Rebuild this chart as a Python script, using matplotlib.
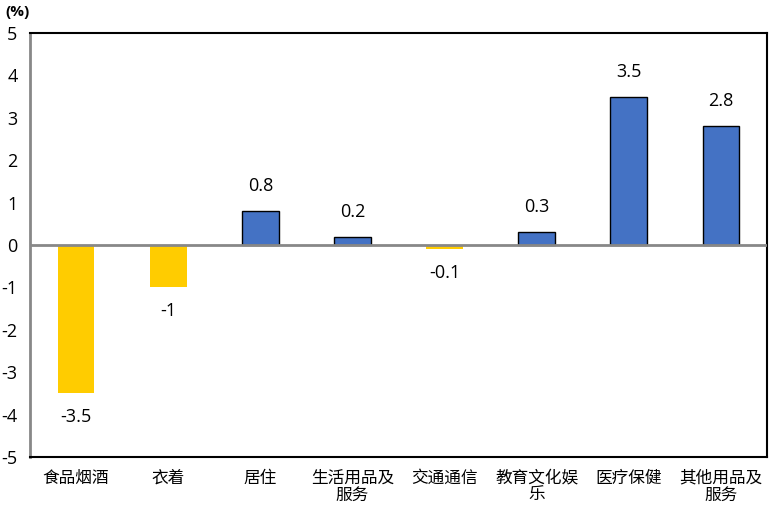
import matplotlib.pyplot as plt
import numpy as np

plt.rcParams['font.family'] = ['Noto Sans CJK SC', 'DejaVu Sans']

categories = ['食品烟酒', '衣着', '居住', '生活用品及\n服务', '交通通信', '教育文化娱\n乐', '医疗保健', '其他用品及\n服务']
values = [-3.5, -1, 0.8, 0.2, -0.1, 0.3, 3.5, 2.8]
value_labels = ['-3.5', '-1', '0.8', '0.2', '-0.1', '0.3', '3.5', '2.8']
yticks = [5, 4, 3, 2, 1, 0, -1, -2, -3, -4, -5]

fig = plt.figure(figsize=(7.71, 5.08), dpi=100)
ax = fig.add_axes([30 / 771, 1 - 457 / 508, 737 / 771, 424 / 508])

x = np.arange(len(categories))
for xi, v, lab in zip(x, values, value_labels):
    if v < 0:
        ax.bar(xi, v, width=0.4, color='#FFCC00', edgecolor='none', zorder=2)
        ax.annotate(lab, (xi, v), xytext=(0, -17), textcoords='offset points',
                    ha='center', va='center', fontsize=13, family='Open Sans')
    else:
        ax.bar(xi, v, width=0.4, color='#4472C4', edgecolor='black', linewidth=1, zorder=2)
        ax.annotate(lab, (xi, v), xytext=(0, 18), textcoords='offset points',
                    ha='center', va='center', fontsize=13, family='Open Sans')

ax.axhline(0, color='#888888', linewidth=2, zorder=3)
ax.set_xlim(-0.5, len(categories) - 0.5)
ax.set_ylim(-5, 5)
ax.set_yticks(yticks)
ax.set_yticklabels([str(t) for t in yticks], family='Open Sans', fontsize=13)
ax.set_xticks(x)
ax.set_xticklabels(categories, fontsize=12, linespacing=1.0, va='top')
ax.tick_params(axis='both', length=0)
ax.tick_params(axis='y', pad=9)
ax.tick_params(axis='x', pad=9)

for side in ['top', 'right', 'bottom']:
    ax.spines[side].set_color('black')
    ax.spines[side].set_linewidth(1.5)
ax.spines['left'].set_color('#888888')
ax.spines['left'].set_linewidth(2)

fig.text(5 / 771, 1 - 12 / 508, '(%)', fontsize=11, fontweight='bold', va='center', ha='left', family='Open Sans')

fig.savefig('out.png', dpi=100)
